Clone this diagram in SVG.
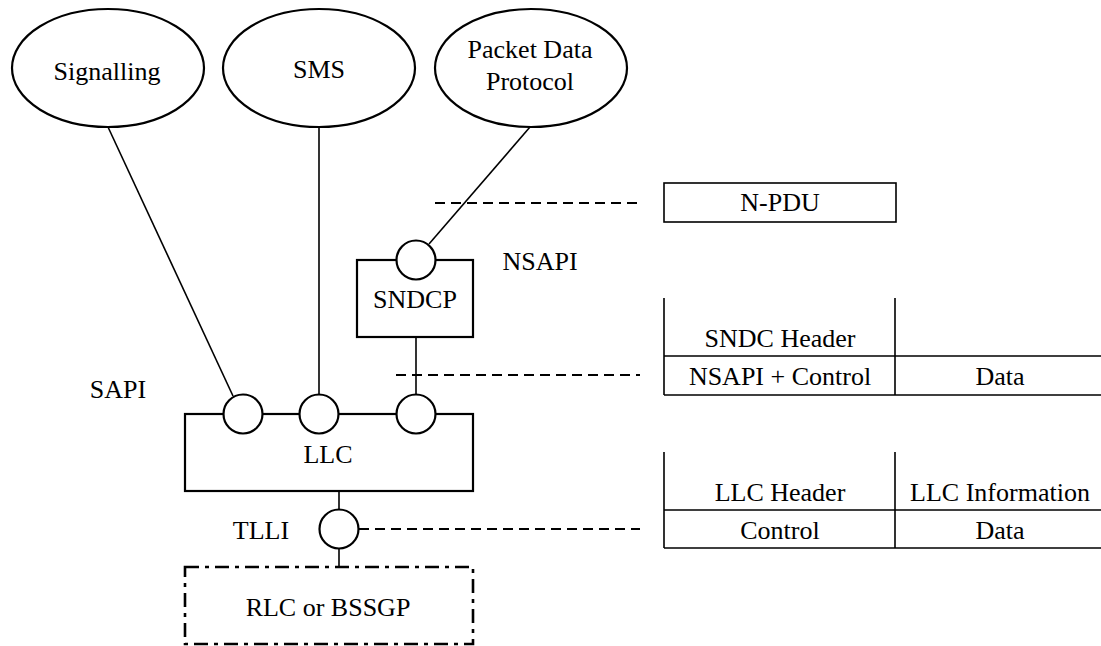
<svg xmlns="http://www.w3.org/2000/svg" width="1101" height="646" viewBox="0 0 1101 646">
<style>
text{font-size:26px;fill:#000;text-anchor:middle}
.sh{fill:#fff;stroke:#000;stroke-width:2.2}
.ln{stroke:#000;stroke-width:1.6;fill:none}
.dash{stroke:#000;stroke-width:1.8;stroke-dasharray:10 6;fill:none}
.dd{fill:none;stroke:#000;stroke-width:2.6;stroke-dasharray:14 6 4 6}
.tb{stroke:#000;stroke-width:1.6;fill:none}
</style>
<rect width="1101" height="646" fill="#fff"/>
<g font-family="'Liberation Serif', 'Times New Roman', 'DejaVu Serif', serif">
<g id="connectors">
<line class="ln" x1="108" y1="127" x2="233" y2="396"/>
<line class="ln" x1="319" y1="127" x2="319" y2="395"/>
<line class="ln" x1="530" y1="127" x2="429" y2="244"/>
<line class="ln" x1="416" y1="337" x2="416" y2="395"/>
<line class="ln" x1="339" y1="491" x2="339" y2="510"/>
<line class="ln" x1="339" y1="548" x2="339" y2="567"/>
<line class="dash" x1="435" y1="203" x2="640" y2="203"/>
<line class="dash" x1="396" y1="375" x2="640" y2="375"/>
<line class="dash" x1="359" y1="529" x2="640" y2="529"/>
</g>
<g id="signalling"><ellipse class="sh" cx="108" cy="68" rx="96" ry="59"/><text x="107" y="80">Signalling</text></g>
<g id="sms"><ellipse class="sh" cx="319" cy="68" rx="96" ry="59"/><text x="319" y="78">SMS</text></g>
<g id="pdp"><ellipse class="sh" cx="531" cy="68" rx="96" ry="59"/><text x="530" y="58">Packet Data</text><text x="530" y="90">Protocol</text></g>
<g id="sndcp"><rect class="sh" x="357" y="260" width="116" height="77"/><text x="415" y="308">SNDCP</text>
<circle class="sh" cx="416" cy="260" r="19.5"/></g>
<g id="llc"><rect class="sh" x="185" y="414" width="288" height="77"/><text x="328" y="463">LLC</text>
<circle class="sh" cx="243" cy="414" r="19.5"/><circle class="sh" cx="319" cy="414" r="19.5"/><circle class="sh" cx="416" cy="414" r="19.5"/></g>
<g id="tlli"><circle class="sh" cx="339" cy="529" r="19.5"/><text x="261" y="539">TLLI</text></g>
<g id="rlc"><rect class="dd" x="185" y="567" width="288" height="77"/><text x="328" y="616">RLC or BSSGP</text></g>
<g id="labels"><text x="118" y="398">SAPI</text><text x="540" y="270">NSAPI</text></g>
<g id="npdu"><rect class="tb" x="664" y="183" width="232" height="39"/><text x="780" y="211">N-PDU</text></g>
<g id="sndc-table">
<path class="tb" d="M664 298V395M895 298V395M664 356H1101M664 395H1101"/>
<text x="780" y="347">SNDC Header</text>
<text x="780" y="385">NSAPI + Control</text>
<text x="1000" y="385">Data</text>
</g>
<g id="llc-table">
<path class="tb" d="M664 452V548M895 452V548M664 510H1101M664 548H1101"/>
<text x="780" y="501">LLC Header</text>
<text x="1000" y="501">LLC Information</text>
<text x="780" y="539">Control</text>
<text x="1000" y="539">Data</text>
</g>
</g>
</svg>
